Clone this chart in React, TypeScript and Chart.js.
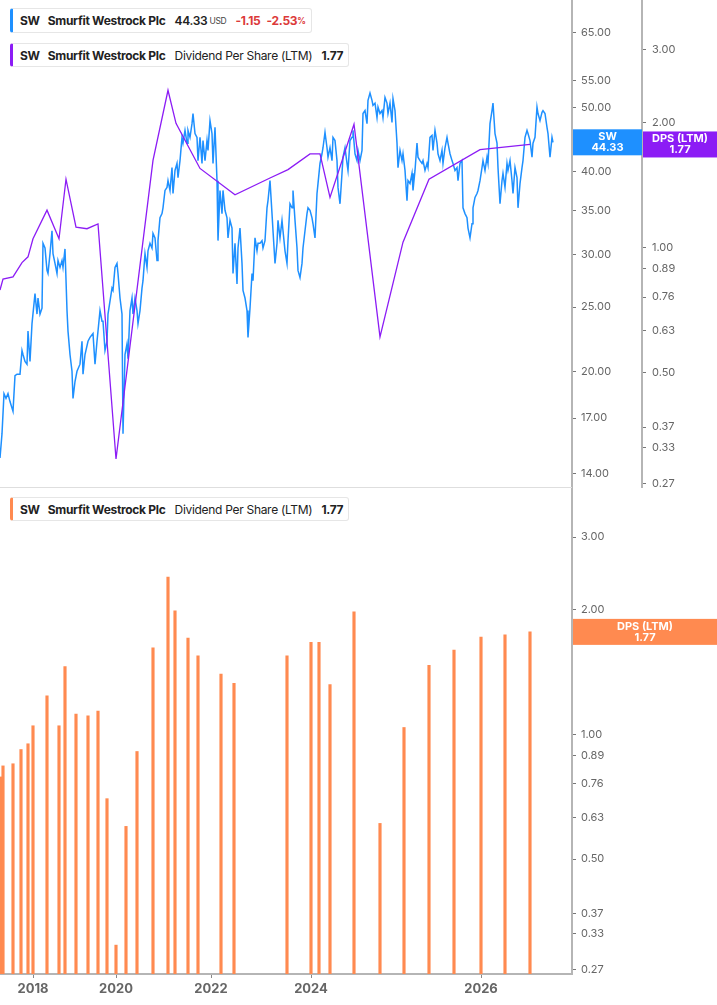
import React, { useEffect, useRef } from 'react';
import { Chart, registerables } from 'chart.js';

Chart.register(...registerables);
Chart.defaults.font.family = 'Inter, "Noto Sans", sans-serif';

// shared time axis, in session index units
const axisEnd = 572;
const yearTicks = [33, 116, 211, 311, 481];
const yearLabels = ['2018', '2020', '2022', '2024', '2026'];

const priceTicks = [14, 17, 20, 25, 30, 35, 40, 45, 50, 55, 65];
const dpsTicks = [0.27, 0.33, 0.37, 0.5, 0.63, 0.76, 0.89, 1.0, 2.0, 3.0];

// SW share price (USD)
const priceX = [
    0, 2, 4, 6, 8, 10, 13, 15, 17, 20, 22, 23, 25, 27, 28, 30, 32, 35, 37, 38,
    40, 42, 43, 45, 47, 48, 50, 52, 53, 55, 57, 58, 60, 62, 63, 65, 67, 68, 70, 72,
    73, 75, 77, 80, 82, 83, 85, 88, 90, 93, 95, 97, 100, 102, 103, 105, 107, 108, 112, 113,
    115, 117, 118, 120, 122, 123, 125, 127, 128, 130, 132, 133, 135, 137, 138, 140, 142, 143, 145, 147,
    148, 150, 152, 153, 155, 157, 158, 160, 162, 163, 165, 167, 168, 170, 172, 173, 175, 177, 178, 180,
    182, 183, 185, 187, 188, 190, 192, 193, 195, 197, 198, 200, 202, 203, 205, 207, 208, 210, 212, 213,
    215, 217, 218, 220, 222, 223, 225, 227, 228, 230, 232, 233, 235, 237, 238, 240, 242, 243, 245, 247,
    248, 250, 252, 253, 255, 257, 258, 260, 262, 263, 265, 267, 268, 270, 272, 273, 275, 277, 278, 280,
    282, 283, 285, 287, 288, 290, 292, 293, 295, 297, 298, 300, 302, 303, 305, 307, 308, 310, 312, 313,
    315, 317, 318, 320, 322, 323, 325, 327, 328, 330, 332, 333, 335, 337, 338, 340, 342, 343, 345, 347,
    348, 350, 352, 353, 355, 357, 358, 360, 362, 363, 365, 367, 368, 370, 372, 373, 375, 377, 378, 380,
    382, 383, 385, 387, 388, 390, 392, 393, 395, 397, 398, 400, 402, 403, 405, 407, 408, 410, 412, 413,
    415, 417, 418, 420, 422, 423, 425, 427, 428, 430, 432, 433, 435, 437, 438, 440, 442, 443, 445, 447,
    448, 450, 452, 453, 455, 457, 458, 460, 462, 463, 465, 467, 468, 470, 472, 473, 475, 477, 478, 480,
    482, 483, 485, 487, 488, 490, 492, 493, 495, 497, 498, 500, 502, 503, 505, 507, 508, 510, 512, 513,
    515, 517, 518, 520, 522, 523, 525, 527, 528, 530, 532, 533, 535, 537, 538, 540, 542, 543, 545, 547,
    548, 550, 552, 553,
];
const priceY = [
    14.8, 16.1, 18.5, 18.2, 18.5, 18.0, 17.4, 19.7, 19.8, 19.8, 21.5, 21.2, 20.7, 20.5, 23.0, 20.7, 23.6, 26.2, 24.4, 25.8,
    24.4, 24.9, 31.2, 30.7, 28.4, 28.1, 30.1, 32.6, 30.1, 29.1, 28.1, 29.4, 28.7, 29.4, 28.7, 30.6, 24.7, 23.0, 21.2, 20.0,
    18.2, 19.3, 20.0, 20.5, 22.2, 19.8, 21.2, 22.2, 22.5, 22.8, 20.5, 22.2, 24.7, 23.8, 23.8, 21.5, 22.2, 24.4, 26.7, 26.5,
    28.7, 29.1, 28.1, 25.8, 24.4, 16.1, 21.2, 22.0, 20.9, 24.7, 25.8, 24.4, 25.8, 24.7, 23.6, 24.7, 26.7, 27.4, 30.1, 28.7,
    30.4, 31.2, 30.7, 32.3, 31.8, 29.4, 31.5, 34.1, 34.6, 35.3, 37.5, 37.9, 38.8, 37.5, 40.6, 37.1, 40.2, 41.2, 39.2, 41.6,
    45.1, 44.2, 46.2, 44.2, 46.2, 45.1, 47.3, 49.0, 45.7, 45.1, 41.6, 45.1, 41.2, 44.6, 41.6, 44.6, 43.1, 47.8, 45.7, 41.2,
    46.7, 38.8, 31.5, 37.5, 34.6, 37.5, 35.0, 34.1, 31.8, 33.8, 32.9, 28.1, 31.2, 27.1, 30.7, 32.9, 29.1, 26.5, 25.8, 24.7,
    22.5, 24.9, 28.1, 27.4, 31.8, 30.4, 31.2, 31.2, 31.5, 30.7, 31.5, 35.3, 36.2, 38.8, 34.6, 32.6, 29.1, 31.2, 33.8, 31.8,
    33.8, 32.6, 30.4, 29.1, 31.5, 35.8, 35.3, 37.5, 33.8, 30.7, 28.4, 27.7, 29.1, 30.7, 32.6, 34.6, 35.3, 35.0, 34.1, 33.4,
    31.8, 37.1, 38.4, 41.2, 42.6, 43.5, 45.9, 43.5, 42.1, 43.5, 41.6, 45.1, 44.6, 41.6, 37.9, 35.8, 39.8, 42.1, 43.5, 41.2,
    40.2, 44.6, 45.1, 46.2, 42.6, 41.6, 43.1, 41.6, 43.1, 49.0, 49.5, 47.3, 51.3, 52.6, 51.3, 50.4, 50.8, 48.3, 50.1, 49.0,
    49.5, 48.3, 51.8, 50.8, 49.0, 50.8, 47.5, 51.6, 49.5, 44.2, 40.6, 43.1, 41.6, 42.6, 40.2, 36.2, 38.8, 38.4, 39.8, 37.5,
    40.2, 44.2, 42.1, 41.6, 41.2, 41.6, 40.2, 41.2, 40.6, 45.1, 45.4, 43.1, 46.2, 44.2, 42.6, 41.6, 43.1, 41.2, 43.5, 45.1,
    44.2, 42.6, 41.6, 41.2, 40.2, 40.6, 38.8, 41.2, 41.6, 35.3, 34.6, 34.1, 32.9, 31.8, 33.4, 35.3, 36.6, 37.1, 37.5, 38.8,
    40.6, 41.6, 40.2, 42.1, 41.2, 47.3, 49.5, 50.8, 45.7, 44.2, 40.6, 35.8, 38.8, 39.8, 37.9, 41.2, 40.2, 41.6, 38.8, 37.1,
    40.6, 39.2, 35.3, 38.4, 40.6, 41.6, 45.1, 46.2, 45.7, 44.6, 42.1, 44.2, 45.1, 50.1, 49.0, 47.8, 49.2, 49.5, 49.0, 46.7,
    45.7, 42.1, 45.1, 44.33,
];

// Dividend Per Share (LTM) line, top panel
const dpsLineX = [0, 3, 13, 22, 28, 33, 47, 59, 66, 76, 87, 98, 116, 153, 168, 176, 200, 235, 270, 288, 310, 320, 330, 354, 380, 403, 429, 480, 530];
const dpsLineY = [0.79, 0.84, 0.85, 0.92, 0.95, 1.05, 1.23, 1.05, 1.46, 1.12, 1.11, 1.14, 0.31, 1.62, 2.39, 1.99, 1.55, 1.34, 1.47, 1.54, 1.68, 1.68, 1.32, 1.98, 0.61, 1.03, 1.46, 1.72, 1.77];

// Dividend Per Share (LTM) bars, bottom panel
const dpsBarX = [1, 3, 13, 21, 28, 33, 47, 59, 65, 76, 88, 98, 107, 116, 126, 137, 153, 168, 175, 188, 198, 221, 234, 287, 311, 319, 330, 354, 380, 404, 429, 454, 481, 505, 530];
const dpsBarY = [0.79, 0.84, 0.85, 0.92, 0.95, 1.05, 1.24, 1.05, 1.46, 1.12, 1.11, 1.14, 0.70, 0.31, 0.60, 0.91, 1.62, 2.40, 1.99, 1.71, 1.55, 1.40, 1.33, 1.55, 1.67, 1.67, 1.32, 1.98, 0.61, 1.04, 1.47, 1.60, 1.72, 1.74, 1.77];

const lastPrice = 44.33;
const lastDps = 1.77;

const BLUE = '#1e90ff';
const PURPLE = '#8c1cf5';
const ORANGE = '#ff8a50';

// boxes with the last value, drawn over the axis
const valueTags = {
    id: 'valueTags',
    afterDraw(chart: any, _args: any, opts: any) {
        const ctx = chart.ctx;
        (opts.tags || []).forEach((t: any) => {
            const scale = chart.scales[t.scale];
            const y = scale.getPixelForValue(t.value);
            const left = scale.left + 1;
            const right = scale.right;
            ctx.save();
            ctx.fillStyle = t.color;
            ctx.fillRect(left, y - 13, right - left, 26);
            ctx.fillStyle = '#fff';
            ctx.font = 'bold 11px Inter';
            ctx.textAlign = 'center';
            ctx.textBaseline = 'middle';
            const cx = (left + right) / 2;
            ctx.fillText(t.lines[0], cx, y - 5.5);
            ctx.fillText(t.lines[1], cx, y + 5.5);
            ctx.restore();
        });
    },
};

const logAxis = (min: number, max: number, ticks: number[], width: number, pad: number) => ({
    type: 'logarithmic',
    position: 'right',
    min,
    max,
    afterBuildTicks: (s: any) => { s.ticks = ticks.map(v => ({ value: v })); },
    afterFit: (s: any) => { s.width = width; s.paddingTop = 0; s.paddingBottom = 0; },
    ticks: {
        autoSkip: false,
        callback: (v: any) => Number(v).toFixed(2),
        color: '#666',
        font: { size: 11 },
        padding: pad,
    },
    grid: { drawOnChartArea: false, offset: false, tickLength: 4, color: '#777' },
    border: { color: '#b5b5b5', width: 2 },
});

const PriceChart: React.FC = () => {
    const canvasRef = useRef<HTMLCanvasElement | null>(null);

    useEffect(() => {
        if (!canvasRef.current) return;
        const chart = new Chart(canvasRef.current, {
            type: 'line',
            data: {
                datasets: [
                    {
                        label: 'Dividend Per Share (LTM)',
                        data: dpsLineX.map((x, i) => ({ x, y: dpsLineY[i] })),
                        yAxisID: 'dps',
                        borderColor: PURPLE,
                        borderWidth: 1.3,
                        pointRadius: 0,
                        tension: 0,
                        order: 1,
                    },
                    {
                        label: 'SW',
                        data: priceX.map((x, i) => ({ x, y: priceY[i] })),
                        yAxisID: 'price',
                        borderColor: BLUE,
                        borderWidth: 1.5,
                        pointRadius: 0,
                        tension: 0,
                        order: 2,
                    },
                ],
            },
            options: {
                animation: false,
                responsive: true,
                maintainAspectRatio: false,
                layout: { padding: 0 },
                plugins: {
                    legend: { display: false },
                    tooltip: { enabled: false },
                    valueTags: {
                        tags: [
                            { scale: 'price', value: lastPrice, color: BLUE, lines: ['SW', lastPrice.toFixed(2)] },
                            { scale: 'dps', value: lastDps, color: PURPLE, lines: ['DPS (LTM)', lastDps.toFixed(2)] },
                        ],
                    },
                } as any,
                scales: {
                    x: { type: 'linear', min: 0, max: axisEnd, display: false },
                    price: logAxis(13.33, 72.7, priceTicks, 70, 5),
                    dps: logAxis(0.264, 3.94, dpsTicks, 75, 6),
                } as any,
            },
            plugins: [valueTags],
        });
        return () => chart.destroy();
    }, []);

    return (
        <div style={{ position: 'absolute', left: 0, top: 0, width: 717, height: 488 }}>
            <canvas ref={canvasRef} />
        </div>
    );
};

const DividendChart: React.FC = () => {
    const canvasRef = useRef<HTMLCanvasElement | null>(null);

    useEffect(() => {
        if (!canvasRef.current) return;
        const chart = new Chart(canvasRef.current, {
            type: 'bar',
            data: {
                datasets: [
                    {
                        label: 'Dividend Per Share (LTM)',
                        data: dpsBarX.map((x, i) => ({ x, y: dpsBarY[i] })),
                        yAxisID: 'dps',
                        backgroundColor: ORANGE,
                        barThickness: 2.5,
                        grouped: false,
                    },
                ],
            },
            options: {
                animation: false,
                responsive: true,
                maintainAspectRatio: false,
                layout: { padding: 0 },
                plugins: {
                    legend: { display: false },
                    tooltip: { enabled: false },
                    valueTags: {
                        tags: [{ scale: 'dps', value: lastDps, color: ORANGE, lines: ['DPS (LTM)', lastDps.toFixed(2)] }],
                    },
                } as any,
                scales: {
                    x: {
                        type: 'linear',
                        min: 0,
                        max: axisEnd,
                        offset: false,
                        afterBuildTicks: (s: any) => { s.ticks = yearTicks.map(v => ({ value: v })); },
                        afterFit: (s: any) => { s.height = 31; s.paddingLeft = 0; s.paddingRight = 0; },
                        ticks: {
                            autoSkip: false,
                            maxRotation: 0,
                            callback: (v: any) => yearLabels[yearTicks.indexOf(Number(v))] ?? '',
                            color: '#666',
                            font: { size: 13, weight: 'bold' },
                            padding: 3,
                        },
                        grid: { drawOnChartArea: false, offset: false, tickLength: 4, color: '#888' },
                        border: { color: '#b5b5b5', width: 2 },
                    },
                    dps: logAxis(0.264, 3.94, dpsTicks, 145, 5),
                } as any,
            },
            plugins: [valueTags],
        });
        return () => chart.destroy();
    }, []);

    return (
        <div style={{ position: 'absolute', left: 0, top: 488, width: 717, height: 517 }}>
            <canvas ref={canvasRef} />
        </div>
    );
};

const boxStyle = (top: number, height: number, color: string): React.CSSProperties => ({
    position: 'absolute',
    left: 10,
    top,
    height,
    boxSizing: 'border-box',
    display: 'flex',
    alignItems: 'center',
    background: '#fff',
    border: '1px solid #e6e6e6',
    borderLeft: `3px solid ${color}`,
    borderRadius: 3,
    padding: '0 5px 0 7px',
    fontFamily: 'Inter, sans-serif',
    fontSize: 12,
    letterSpacing: -0.3,
    color: '#222',
    whiteSpace: 'nowrap',
    zIndex: 2,
});

const NameParts: React.FC = () => (
    <>
        <span style={{ fontWeight: 700, marginRight: 8 }}>SW</span>
        <span style={{ fontWeight: 700, marginRight: 9 }}>Smurfit Westrock Plc</span>
    </>
);

const DpsLegend: React.FC<{ top: number; color: string }> = ({ top, color }) => (
    <div style={boxStyle(top, 24, color)}>
        <NameParts />
        <span style={{ fontWeight: 400, marginRight: 9 }}>Dividend Per Share (LTM)</span>
        <span style={{ fontWeight: 700 }}>1.77</span>
    </div>
);

export default function App() {
    return (
        <div style={{ position: 'relative', width: 717, height: 1005, overflow: 'hidden', background: '#fff' }}>
            <style>{'body{margin:0}'}</style>
            <PriceChart />
            <DividendChart />
            <div style={{ position: 'absolute', left: 0, top: 487, width: 572, height: 1, background: '#dedede', zIndex: 1 }} />
            <div style={boxStyle(8, 25, BLUE)}>
                <NameParts />
                <span style={{ fontWeight: 600 }}>44.33</span>
                <span style={{ fontSize: 8.5, color: '#444', marginLeft: 2, marginRight: 9 }}>USD</span>
                <span style={{ fontWeight: 700, color: '#dc3a3a', marginRight: 6 }}>-1.15</span>
                <span style={{ fontWeight: 700, color: '#dc3a3a' }}>-2.53</span>
                <span style={{ fontSize: 8.5, fontWeight: 700, color: '#dc3a3a' }}>%</span>
            </div>
            <DpsLegend top={43} color={PURPLE} />
            <DpsLegend top={497} color={ORANGE} />
        </div>
    );
}
